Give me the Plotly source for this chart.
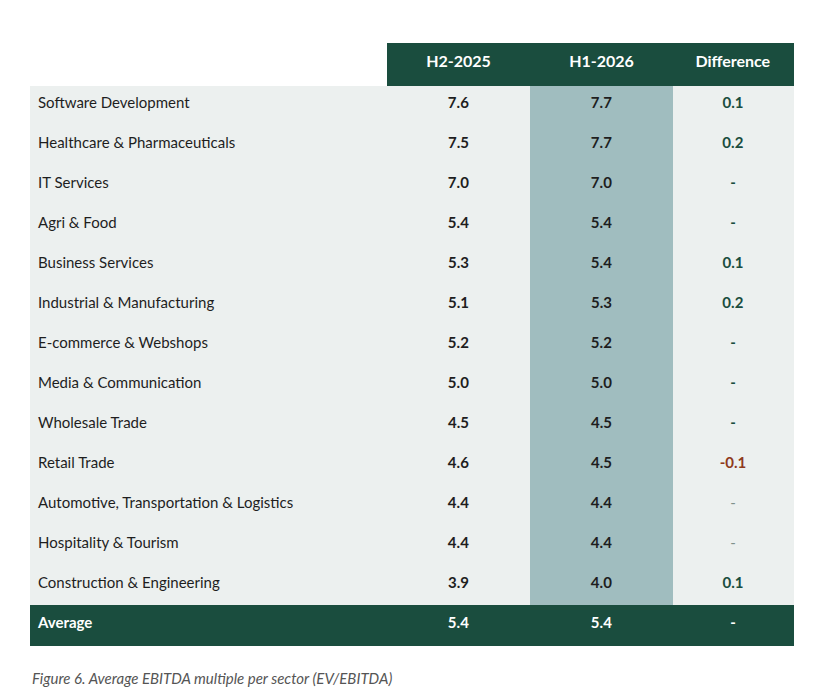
import plotly.graph_objects as go

# table data
sectors = [
    "Software Development",
    "Healthcare & Pharmaceuticals",
    "IT Services",
    "Agri & Food",
    "Business Services",
    "Industrial & Manufacturing",
    "E-commerce & Webshops",
    "Media & Communication",
    "Wholesale Trade",
    "Retail Trade",
    "Automotive, Transportation & Logistics",
    "Hospitality & Tourism",
    "Construction & Engineering",
]
h2_2025 = [7.6, 7.5, 7.0, 5.4, 5.3, 5.1, 5.2, 5.0, 4.5, 4.6, 4.4, 4.4, 3.9]
h1_2026 = [7.7, 7.7, 7.0, 5.4, 5.4, 5.3, 5.2, 5.0, 4.5, 4.5, 4.4, 4.4, 4.0]
difference = ["0.1", "0.2", "-", "-", "0.1", "0.2", "-", "-", "-", "-0.1", "-", "-", "0.1"]
# rows where the dash is drawn light grey instead of green
faint_dash = [False] * 10 + [True, True, False]
avg_h2, avg_h1, avg_diff = 5.4, 5.4, "-"

GREEN = "#1a4d3e"
BODY = "#ecf0ef"
HIGHLIGHT = "#a0bdbf"
RED = "#8f3a1c"
GREY = "#7f918b"
TEXT = "#1e1e1e"
FONT = "Lato"

n = len(sectors)

# every cell gets a tag so plotly lays all rows out the same way
col_sector = [f"<span>{s}</span>" for s in sectors] + ["<b>Average</b>"]
col_h2 = [f"<b>{v:.1f}</b>" for v in h2_2025] + [f"<b>{avg_h2:.1f}</b>"]
col_h1 = [f"<b>{v:.1f}</b>" for v in h1_2026] + [f"<b>{avg_h1:.1f}</b>"]
col_diff = [f"<span>{d}</span>" if f else f"<b>{d}</b>" for d, f in zip(difference, faint_dash)] + [f"<b>{avg_diff}</b>"]

diff_colors = []
for d, f in zip(difference, faint_dash):
    if f:
        diff_colors.append(GREY)
    elif d.startswith("-") and d != "-":
        diff_colors.append(RED)
    else:
        diff_colors.append(GREEN)

fill = [
    [BODY] * n + [GREEN],
    [BODY] * n + [GREEN],
    [HIGHLIGHT] * n + [GREEN],
    [BODY] * n + [GREEN],
]
font_colors = [
    [TEXT] * n + ["white"],
    [TEXT] * n + ["white"],
    [TEXT] * n + ["white"],
    diff_colors + ["white"],
]

# page body has an 8px margin, so the figure is 16px smaller and shifted
W, H = 799, 680
OFF = 8

fig = go.Figure(
    go.Table(
        domain=dict(x=[(30 - OFF) / W, (793 - OFF) / W], y=[1 - (646 - OFF) / H, 1 - (43 - OFF) / H]),
        columnwidth=[357, 143, 143, 120],
        header=dict(
            values=["", "<b>H2-2025</b>", "<b>H1-2026</b>", "<b>Difference</b>"],
            fill_color=["white", GREEN, GREEN, GREEN],
            line_color=["white", GREEN, GREEN, GREEN],
            font=dict(family=FONT, size=16, color="white"),
            align="center",
            height=42,
        ),
        cells=dict(
            values=[col_sector, col_h2, col_h1, col_diff],
            fill_color=fill,
            line_color=fill,
            font=dict(family=FONT, size=15, color=font_colors),
            align=["left", "center", "center", "center"],
            height=40,
        ),
    )
)

fig.add_annotation(
    x=(30 - OFF) / W, y=1 - (678 - OFF) / H, xref="paper", yref="paper",
    xanchor="left", yanchor="middle", showarrow=False,
    text="<i>Figure 6. Average EBITDA multiple per sector (EV/EBITDA)</i>",
    font=dict(family=FONT, size=15, color="#555555"),
)

fig.update_layout(
    width=W, height=H,
    margin=dict(l=0, r=0, t=0, b=0),
    paper_bgcolor="white",
    plot_bgcolor="white",
)

fig.write_html("out.html")
